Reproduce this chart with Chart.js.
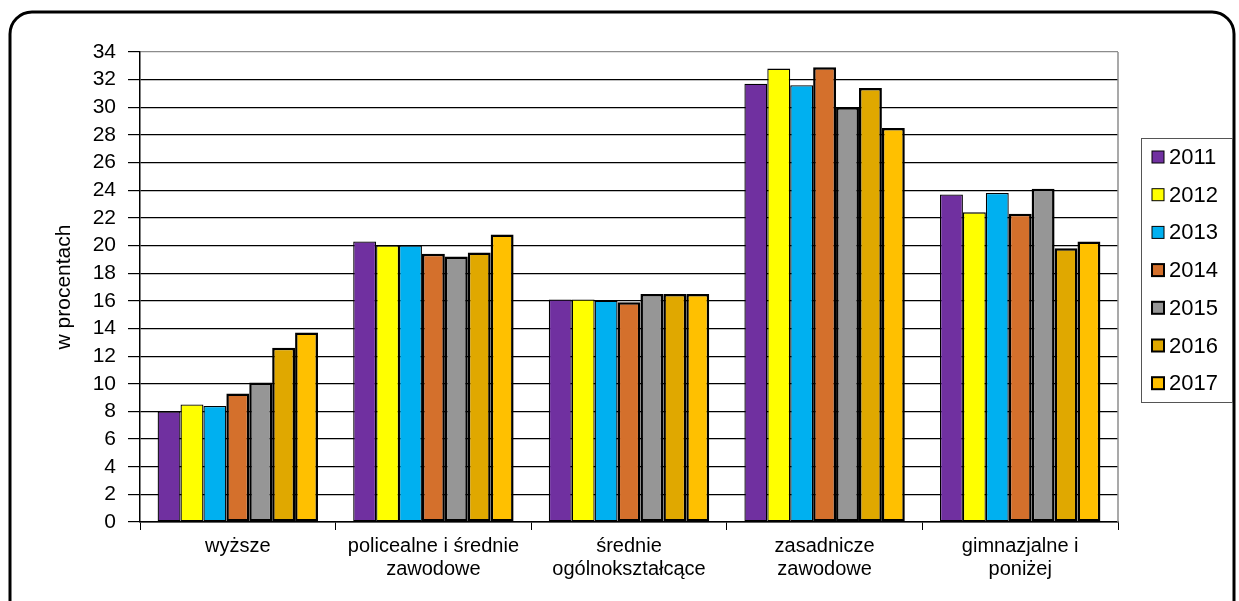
<!DOCTYPE html>
<html>
<head>
<meta charset="utf-8">
<script src="https://cdn.jsdelivr.net/npm/chart.js@4.4.1/dist/chart.umd.min.js"></script>
<style>
  html, body { margin: 0; padding: 0; background: #fff; overflow: hidden; }
</style>
</head>
<body>
<canvas id="chart" width="1239" height="601"></canvas>
<script>
const categories = [
  "wyższe",
  ["policealne i średnie", "zawodowe"],
  ["średnie", "ogólnokształcące"],
  ["zasadnicze", "zawodowe"],
  ["gimnazjalne i", "poniżej"],
];
const years = ["2011", "2012", "2013", "2014", "2015", "2016", "2017"];

const v2011 = [8.0, 20.3, 16.1, 31.7, 23.7];
const v2012 = [8.5, 20.0, 16.1, 32.8, 22.4];
const v2013 = [8.4, 20.0, 16.0, 31.6, 23.8];
const v2014 = [9.3, 19.4, 15.9, 32.9, 22.3];
const v2015 = [10.1, 19.2, 16.5, 30.0, 24.1];
const v2016 = [12.6, 19.5, 16.5, 31.4, 19.8];
const v2017 = [13.7, 20.8, 16.5, 28.5, 20.3];

const yMin = 0;
const yMax = 34;
const yStep = 2;

const colors = ["#7030A0", "#FFFF00", "#00B0F0", "#D4702C", "#969696", "#E0A800", "#FFC000"];
const borders = [1.3, 1.3, 1.3, 2.5, 2.5, 2.5, 2.5];
const series = [v2011, v2012, v2013, v2014, v2015, v2016, v2017];

const FONT = "'Liberation Sans', Arial, sans-serif";

// rounded frame round the whole chart
const framePlugin = {
  id: "frame",
  beforeDraw: (chart) => {
    const ctx = chart.ctx;
    ctx.save();
    ctx.fillStyle = "#fff";
    ctx.fillRect(0, 0, chart.width, chart.height);
    ctx.beginPath();
    ctx.roundRect(10, 12, 1224, 640, 22);
    ctx.lineWidth = 3;
    ctx.strokeStyle = "#000";
    ctx.stroke();
    ctx.restore();
  },
};

// gray border on the right side of the plot area
const plotBorder = {
  id: "plot_border",
  beforeDatasetsDraw: (chart) => {
    const a = chart.chartArea;
    const ctx = chart.ctx;
    ctx.save();
    ctx.strokeStyle = "#8c8c8c";
    ctx.lineWidth = 1.5;
    ctx.beginPath();
    ctx.moveTo(a.right, a.top);
    ctx.lineTo(a.right, a.bottom);
    ctx.stroke();
    ctx.restore();
  },
};

// legend box on the right
const legendBox = {
  id: "legend_box",
  afterDraw: (chart) => {
    const ctx = chart.ctx;
    ctx.save();
    ctx.strokeStyle = "#555";
    ctx.lineWidth = 1;
    ctx.strokeRect(1141.5, 138.5, 91, 264);
    ctx.font = "22px " + FONT;
    ctx.textBaseline = "middle";
    ctx.textAlign = "left";
    chart.data.datasets.forEach((ds, i) => {
      const y = 157 + i * 37.7;
      ctx.fillStyle = ds.backgroundColor;
      ctx.fillRect(1152, y - 6, 12, 12);
      ctx.strokeStyle = "#000";
      ctx.lineWidth = ds.borderWidth > 2 ? 2 : 1;
      ctx.strokeRect(1152, y - 6, 12, 12);
      ctx.fillStyle = "#000";
      ctx.fillText(ds.label, 1169, y + 1);
    });
    ctx.restore();
  },
};

const ctx = document.getElementById("chart").getContext("2d");

const chart = new Chart(ctx, {
  type: "bar",
  data: {
    labels: categories,
    datasets: years.map((y, i) => ({
      label: y,
      data: series[i],
      backgroundColor: colors[i],
      borderColor: "#000",
      borderWidth: borders[i],
      borderSkipped: false,
      categoryPercentage: 0.82,
      barPercentage: 1.0,
    })),
  },
  options: {
    responsive: false,
    animation: false,
    devicePixelRatio: 1,
    layout: {
      padding: { top: 52, right: 121, bottom: 0, left: 0 },
    },
    plugins: {
      legend: { display: false },
      tooltip: { enabled: false },
    },
    scales: {
      x: {
        grid: {
          display: true,
          drawOnChartArea: false,
          offset: true,
          tickLength: 8,
          color: "#000",
        },
        border: { color: "#000", width: 1.5 },
        ticks: {
          color: "#000",
          font: { family: FONT, size: 20, lineHeight: 1.15 },
          padding: 5,
          maxRotation: 0,
          autoSkip: false,
        },
        afterFit: (scale) => {
          scale.height = 79;
        },
      },
      y: {
        min: yMin,
        max: yMax,
        grid: {
          color: (c) => (c.tick && c.tick.value === yMax ? "#8c8c8c" : "#000"),
          lineWidth: 1.2,
          tickLength: 12,
          tickColor: "#000",
        },
        border: { color: "#000", width: 1.5 },
        ticks: {
          stepSize: yStep,
          autoSkip: false,
          color: "#000",
          font: { family: FONT, size: 21 },
          padding: 12,
        },
        title: {
          display: true,
          text: "w procentach",
          color: "#000",
          font: { family: FONT, size: 21 },
          padding: { top: 52, bottom: 0 },
        },
        afterFit: (scale) => {
          scale.width = 140;
        },
      },
    },
  },
  plugins: [framePlugin, plotBorder, legendBox],
});
</script>
</body>
</html>
